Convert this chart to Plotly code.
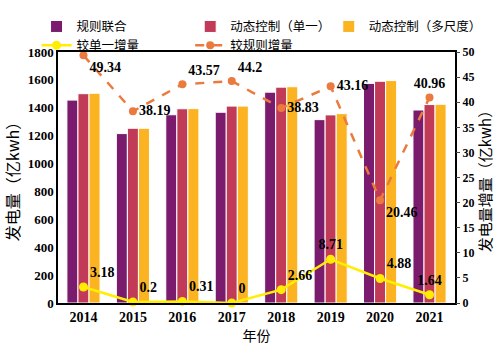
import plotly.graph_objects as go

years = ["2014", "2015", "2016", "2017", "2018", "2019", "2020", "2021"]
rule_joint = [1455, 1215, 1350, 1368, 1512, 1315, 1575, 1384]
dyn_single = [1501, 1253, 1393, 1412, 1548, 1349, 1590, 1423]
dyn_multi = [1504, 1253, 1394, 1412, 1551, 1358, 1595, 1425]
inc_vs_single = [3.18, 0.2, 0.31, 0, 2.66, 8.71, 4.88, 1.64]
inc_vs_rule = [49.34, 38.19, 43.57, 44.2, 38.83, 43.16, 20.46, 40.96]

cn_font = "Noto Sans CJK SC"
num_font = "Liberation Serif"

fig = go.Figure()
for name, vals, col, lg in [("规则联合", rule_joint, "#7a1b6d", "legend2"),
                            ("动态控制（单一）", dyn_single, "#c13a58", "legend3"),
                            ("动态控制（多尺度）", dyn_multi, "#fbb321", "legend4")]:
    fig.add_trace(go.Bar(x=years, y=vals, name=name, marker_color=col, showlegend=True,
                         marker_line=dict(color="white", width=1), legend=lg))

pos_single = ["top right", "top right", "top right", "top right", "top right", "top center", "top right", "top center"]
fig.add_trace(go.Scatter(x=years, y=inc_vs_single, name="较单一增量", yaxis="y2", legend="legend5",
                         mode="lines+markers+text", line=dict(color="#ffee00", width=2.5),
                         marker=dict(size=9, color="#ffee00"),
                         text=[str(v) for v in inc_vs_single], textposition=pos_single,
                         textfont=dict(family=num_font, size=14, color="black", weight="bold"),
                         cliponaxis=False))
pos_rule = ["bottom right", "middle right", "top right", "top right", "middle right", "middle right", "bottom right", "top center"]
fig.add_trace(go.Scatter(x=years, y=inc_vs_rule, name="较规则增量", yaxis="y2", legend="legend6",
                         mode="lines+markers+text", line=dict(color="#ea7a3e", width=2.5, dash="dash"),
                         marker=dict(size=8, color="#ea7a3e"),
                         text=[str(v) for v in inc_vs_rule], textposition=pos_rule,
                         textfont=dict(family=num_font, size=14, color="black", weight="bold"),
                         cliponaxis=False))

leg_common = dict(orientation="h", xref="paper", yref="paper", yanchor="top",
                  font=dict(size=12.5, family=cn_font), itemwidth=30,
                  bgcolor="rgba(0,0,0,0)")

fig.update_layout(
    width=501, height=354,
    margin=dict(l=52, r=41, t=47, b=51),
    plot_bgcolor="white", paper_bgcolor="white",
    barmode="group", bargap=0.33, bargroupgap=0.0,
    font=dict(family=cn_font, size=13, color="black"),
    legend2=dict(x=-0.054, y=1.16, xanchor="left", **leg_common),
    legend3=dict(x=0.333, y=1.16, xanchor="left", **leg_common),
    legend4=dict(x=1.08, y=1.16, xanchor="right", **leg_common),
    legend5=dict(x=-0.054, y=1.085, xanchor="left", **leg_common),
    legend6=dict(x=0.333, y=1.085, xanchor="left", **leg_common),
    xaxis=dict(title=dict(text="年份", font=dict(size=14), standoff=6),
               tickfont=dict(family=num_font, size=14, weight="bold"),
               showline=True, linecolor="black", linewidth=1.5, mirror=True, ticks=""),
    yaxis=dict(range=[0, 1800], dtick=200, title=dict(text="发电量（亿kwh）", font=dict(size=16), standoff=4),
               tickfont=dict(family=num_font, size=13, weight="bold"),
               showline=True, linecolor="black", linewidth=1.5, mirror=True,
               showgrid=False, zeroline=False, ticks=""),
    yaxis2=dict(range=[0, 50], dtick=5, overlaying="y", side="right",
                title=dict(text="发电量增量（亿kwh）", font=dict(size=15), standoff=4),
                tickfont=dict(family=num_font, size=12, weight="bold"),
                showgrid=False, zeroline=False, ticks="outside", ticklen=4,
                linecolor="black", showline=True),
)
fig.write_html("out.html")
